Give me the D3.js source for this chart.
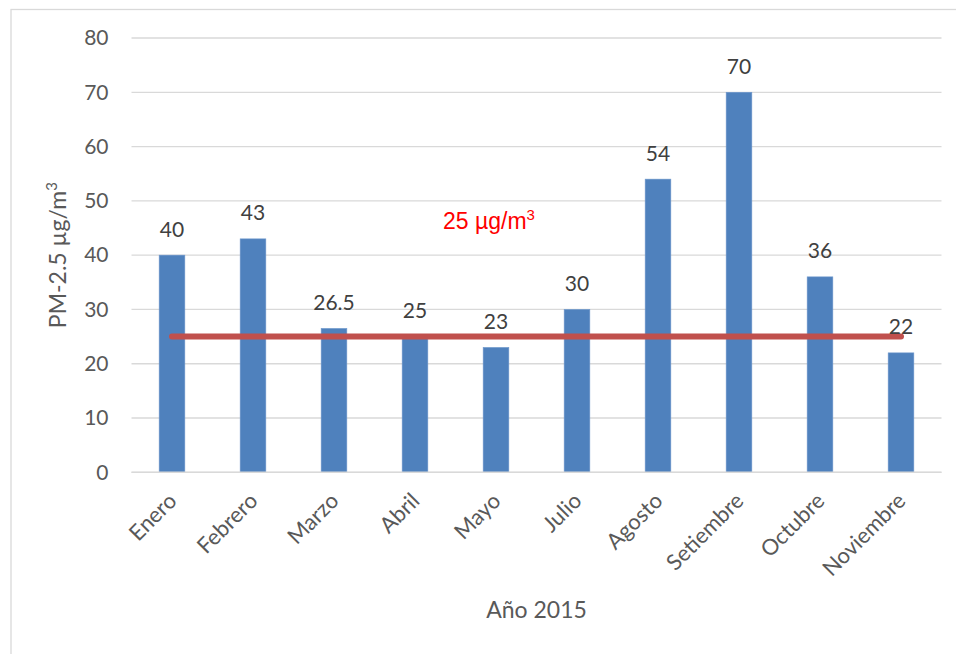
<!DOCTYPE html>
<html>
<head>
<meta charset="utf-8">
<script src="https://cdn.jsdelivr.net/npm/d3@7"></script>
<style>
  html, body { margin: 0; padding: 0; background: #fff; }
  svg { display: block; }
</style>
</head>
<body>
<svg id="chart" width="956" height="654"></svg>
<script>
// Monthly PM-2.5 concentrations, 2015
const months = ["Enero", "Febrero", "Marzo", "Abril", "Mayo", "Julio", "Agosto", "Setiembre", "Octubre", "Noviembre"];
const pm25 = [40, 43, 26.5, 25, 23, 30, 54, 70, 36, 22];
const limitValue = 25;           // reference threshold (µg/m³)
const yTicks = [0, 10, 20, 30, 40, 50, 60, 70, 80];

const svg = d3.select("#chart");
const W = 956, H = 654;
const plot = { left: 131.5, right: 941.5, top: 38, bottom: 472.3 };

const textFont = "Lato, 'Open Sans', sans-serif";

// outer chart frame
svg.append("rect")
  .attr("x", 11).attr("y", 9.5)
  .attr("width", W).attr("height", H)
  .attr("fill", "#fff")
  .attr("stroke", "#d9d9d9").attr("stroke-width", 1.3);

const x = d3.scaleBand().domain(months).range([plot.left, plot.right]).paddingInner(0.683).paddingOuter(0.3415);
const y = d3.scaleLinear().domain([0, 80]).range([plot.bottom, plot.top]);

// horizontal gridlines
svg.append("g")
  .selectAll("line")
  .data(yTicks)
  .join("line")
  .attr("x1", plot.left).attr("x2", plot.right)
  .attr("y1", d => y(d)).attr("y2", d => y(d))
  .attr("stroke", "#d9d9d9").attr("stroke-width", 1.3);

// y axis labels
const yAxis = svg.append("g")
  .attr("transform", `translate(${plot.left - 23},0)`)
  .call(d3.axisLeft(y).tickValues(yTicks).tickSize(0).tickPadding(0));
yAxis.select(".domain").remove();
yAxis.selectAll("text")
  .attr("font-family", textFont).attr("font-size", 21)
  .attr("fill", "#595959");

// bars
svg.append("g")
  .selectAll("rect")
  .data(months)
  .join("rect")
  .attr("x", d => x(d))
  .attr("y", (d, i) => y(pm25[i]))
  .attr("width", x.bandwidth())
  .attr("height", (d, i) => y(0) - y(pm25[i]))
  .attr("fill", "#4f81bd")
  .attr("stroke", "#6f98cc").attr("stroke-width", 0.6);

// x axis baseline
svg.append("line")
  .attr("x1", plot.left).attr("x2", plot.right)
  .attr("y1", y(0)).attr("y2", y(0))
  .attr("stroke", "#d9d9d9").attr("stroke-width", 1.5);

// x axis labels, rotated
const xAxis = svg.append("g")
  .attr("transform", `translate(0,${plot.bottom})`)
  .call(d3.axisBottom(x).tickSize(0).tickPadding(0));
xAxis.select(".domain").remove();
xAxis.selectAll("text")
  .attr("font-family", textFont).attr("font-size", 22)
  .attr("fill", "#595959")
  .attr("text-anchor", "end")
  .attr("dy", null)
  .attr("transform", "translate(6,30) rotate(-45)");

// threshold line across the months
svg.append("line")
  .attr("x1", x(months[0]) + x.bandwidth() / 2)
  .attr("x2", x(months[months.length - 1]) + x.bandwidth() / 2)
  .attr("y1", y(limitValue)).attr("y2", y(limitValue))
  .attr("stroke", "#c0504d").attr("stroke-width", 6)
  .attr("stroke-linecap", "round");

// value labels above bars
svg.append("g")
  .selectAll("text")
  .data(months)
  .join("text")
  .attr("x", d => x(d) + x.bandwidth() / 2)
  .attr("y", (d, i) => y(pm25[i]) - 18.5)
  .attr("text-anchor", "middle")
  .attr("font-family", textFont).attr("font-size", 21)
  .attr("fill", "#404040")
  .text((d, i) => pm25[i]);

// threshold annotation
const note = svg.append("text")
  .attr("x", 443).attr("y", 228.5)
  .attr("font-family", "'Liberation Sans', Arial, sans-serif")
  .attr("font-size", 23)
  .attr("fill", "#ff0000");
note.append("tspan").text(limitValue + " µg/m");
note.append("tspan").attr("font-size", 15).attr("dy", -9).text("3");

// y axis title
const yTitle = svg.append("text")
  .attr("transform", `translate(66,${(plot.top + plot.bottom) / 2}) rotate(-90)`)
  .attr("text-anchor", "middle")
  .attr("font-family", textFont).attr("font-size", 23)
  .attr("fill", "#595959");
yTitle.append("tspan").text("PM-2.5 µg/m");
yTitle.append("tspan").attr("font-size", 15).attr("dy", -9).text("3");

// x axis title
svg.append("text")
  .attr("x", (plot.left + plot.right) / 2)
  .attr("y", 618)
  .attr("text-anchor", "middle")
  .attr("font-family", textFont).attr("font-size", 23)
  .attr("fill", "#595959")
  .text("Año 2015");
</script>
</body>
</html>
